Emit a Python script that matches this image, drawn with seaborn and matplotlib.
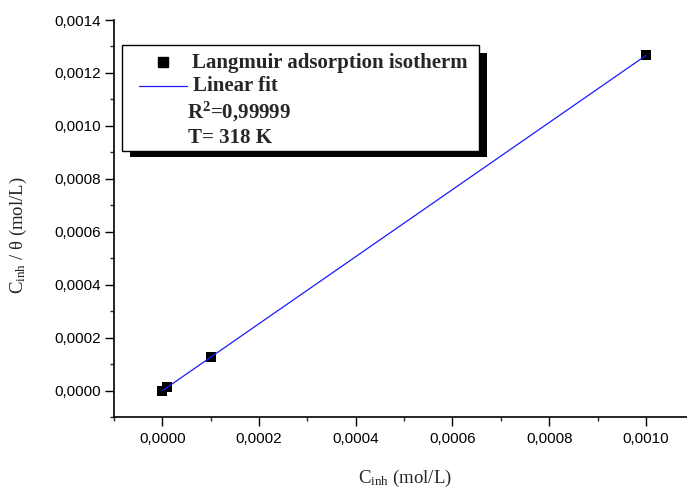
import numpy as np
import pandas as pd
import matplotlib
matplotlib.use("Agg")
import matplotlib.pyplot as plt
import seaborn as sns
from matplotlib.patches import Rectangle
from matplotlib.lines import Line2D
from matplotlib.ticker import MultipleLocator, FuncFormatter

# Data
c_inh = [0.0, 0.00001, 0.0001, 0.001]
c_over_theta = [0.0, 0.0000129, 0.0001275, 0.001266]
legend_labels = ["Langmuir adsorption isotherm", "Linear fit"]
r2_text = r"R$^\mathbf{2}$=0,99999"
t_text = "T= 318 K"
xlabel = "C$_{\\mathrm{inh}}$ (mol/L)"
ylabel = "C$_{\\mathrm{inh}}$ / θ (mol/L)"

sns.set_style("ticks")
plt.rcParams['font.family'] = ['Liberation Sans', 'DejaVu Sans']
plt.rcParams['mathtext.fontset'] = 'custom'
plt.rcParams['mathtext.rm'] = 'Liberation Serif'
plt.rcParams['mathtext.it'] = 'Liberation Serif:italic'
plt.rcParams['mathtext.bf'] = 'Liberation Serif:bold'

W, H = 687, 495
fig = plt.figure(figsize=(W / 100, H / 100), dpi=100)
ax = fig.add_axes([114 / W, 1 - 417.3 / H, 1 - 114 / W, (417.3 - 20) / H])

df = pd.DataFrame({"x": c_inh, "y": c_over_theta})
slope, intercept = np.polyfit(df["x"], df["y"], 1)
fit = pd.DataFrame({"x": [min(c_inh), max(c_inh)]})
fit["y"] = slope * fit["x"] + intercept

sns.scatterplot(data=df, x="x", y="y", ax=ax, marker="s", s=62, color="black",
                edgecolor="black", linewidth=0, zorder=2)
sns.lineplot(data=fit, x="x", y="y", ax=ax, color="#1a1aff", linewidth=0.9, zorder=3)

ax.set_xlim(-0.0001, 0.001085)
ax.set_ylim(-0.0001, 0.0014)
ax.xaxis.set_major_locator(MultipleLocator(0.0002))
ax.xaxis.set_minor_locator(MultipleLocator(0.0001))
ax.yaxis.set_major_locator(MultipleLocator(0.0002))
ax.yaxis.set_minor_locator(MultipleLocator(0.0001))
fmt = FuncFormatter(lambda v, p: f"{v:.4f}".replace(".", ",").replace("-0,0000", "0,0000"))
ax.xaxis.set_major_formatter(fmt)
ax.yaxis.set_major_formatter(fmt)
ax.tick_params(which="major", direction="out", length=6.5, width=1.0, labelsize=11, colors="black")
ax.tick_params(which="minor", direction="out", length=3, width=1.0)
ax.tick_params(axis="x", pad=4)
ax.tick_params(axis="y", pad=3)
for s in ["top", "right"]:
    ax.spines[s].set_visible(False)
for s in ["left", "bottom"]:
    ax.spines[s].set_linewidth(1.2)
    ax.spines[s].set_color("black")

ax.set_xlabel(xlabel, fontsize=13.5, family="Liberation Serif")
ax.set_ylabel(ylabel, fontsize=13.5, family="Liberation Serif")
ax.xaxis.set_label_coords((405 - 114) / 573, (417.3 - 468) / 397.3)
ax.yaxis.set_label_coords((29 - 114) / 573, (417.3 - 235) / 397.3)

# Legend box with shadow (figure pixel coords)
def fx(px):
    return px / W

def fy(py):
    return 1 - py / H

fig.add_artist(Rectangle((fx(130), fy(157)), fx(487) - fx(130), fy(53) - fy(157),
                         transform=fig.transFigure, facecolor="black", edgecolor="none", zorder=5))
fig.add_artist(Rectangle((fx(122), fy(151)), fx(479) - fx(122), fy(45) - fy(151),
                         transform=fig.transFigure, facecolor="white", edgecolor="black",
                         linewidth=1.0, zorder=6))
fig.add_artist(Line2D([fx(163)], [fy(62)], marker="s", markersize=7, color="black",
                      linestyle="none", transform=fig.transFigure, zorder=7))
fig.add_artist(Line2D([fx(139), fx(187)], [fy(86), fy(86)], color="#1a1aff", linewidth=0.9,
                      transform=fig.transFigure, zorder=7))
tkw = dict(fontsize=15, fontweight="bold", family="Liberation Serif", va="center", ha="left",
           transform=fig.transFigure, zorder=8)
fig.text(fx(192), fy(63), legend_labels[0], **tkw)
fig.text(fx(193), fy(86), legend_labels[1], **tkw)
fig.text(fx(187), fy(112), r2_text, **tkw)
fig.text(fx(188), fy(138), t_text, **tkw)

fig.savefig("out.png", dpi=100)
